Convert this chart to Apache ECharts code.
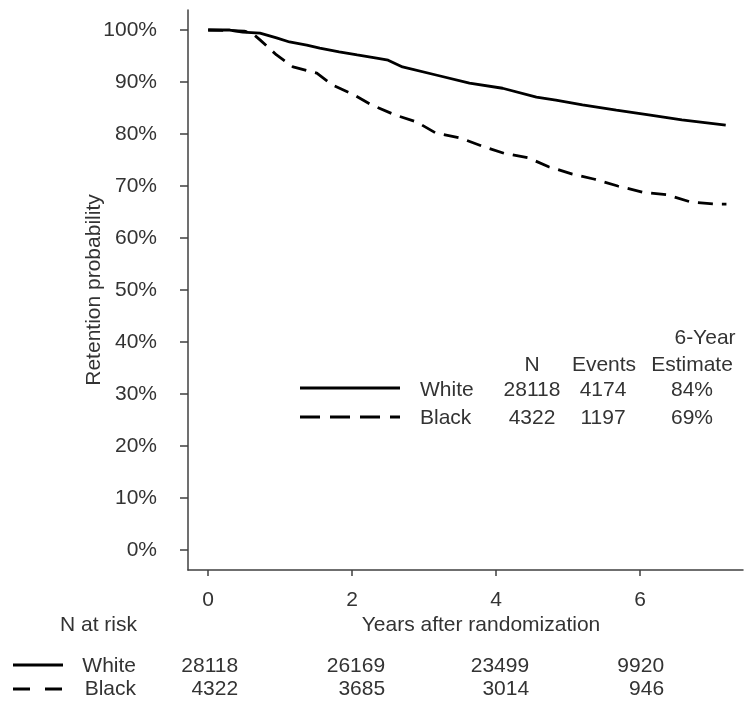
<!DOCTYPE html>
<html><head><meta charset="utf-8">
<script src="https://cdn.jsdelivr.net/npm/echarts@6/dist/echarts.min.js"></script>
<style>html,body{margin:0;padding:0;background:#fff}#c{width:746px;height:707px}</style>
</head><body><div id="c"></div>
<script>
// ---- data ----
const whiteYears = [0, 0.3, 0.48, 0.72, 0.95, 1.13, 1.37, 1.55, 1.82, 2.07, 2.34, 2.5, 2.7, 3.18, 3.63, 4.09, 4.56, 4.83, 5.2, 5.67, 6.12, 6.58, 7.19];
const whiteSurv  = [100, 100, 99.6, 99.4, 98.5, 97.7, 97.1, 96.5, 95.8, 95.2, 94.6, 94.2, 92.9, 91.3, 89.8, 88.8, 87.1, 86.5, 85.6, 84.6, 83.7, 82.7, 81.7];
const blackYears = [0, 0.5, 0.62, 0.72, 0.95, 1.18, 1.51, 1.73, 2.03, 2.27, 2.59, 2.9, 3.16, 3.51, 3.8, 4.11, 4.45, 4.73, 5.06, 5.37, 5.69, 6.04, 6.38, 6.71, 7.07, 7.2];
const blackSurv  = [100, 99.8, 99.3, 98.1, 95.2, 92.9, 91.7, 89.4, 87.5, 85.6, 83.7, 82.3, 80.2, 79.2, 77.7, 76.3, 75.4, 73.7, 72.3, 71.3, 70.0, 68.8, 68.3, 66.9, 66.5, 66.5];
const yTicks = [0, 10, 20, 30, 40, 50, 60, 70, 80, 90, 100];
const xTicks = [0, 2, 4, 6];
const groups = ['White', 'Black'];
const groupN = [28118, 4322];
const groupEvents = [4174, 1197];
const groupEstimate = ['84%', '69%'];
const riskYears = [0, 2, 4, 6];
const riskWhite = [28118, 26169, 23499, 9920];
const riskBlack = [4322, 3685, 3014, 946];

const FONT = '"Liberation Sans", Arial, sans-serif';
const TXT = '#333333';
const FS = 21;

const chart = echarts.init(document.getElementById('c'), null, {renderer: 'canvas'});
chart.setOption({
  animation: false,
  backgroundColor: '#ffffff',
  textStyle: {fontFamily: FONT},
  grid: {left: 188, top: 10, right: 3, bottom: 137},
  xAxis: {
    type: 'value', min: -0.28, max: 7.43,
    axisLine: {onZero: false, lineStyle: {color: '#404040', width: 1.5}},
    axisTick: {customValues: xTicks, length: 6, lineStyle: {color: '#404040', width: 1.5}},
    axisLabel: {customValues: xTicks, margin: 20, color: TXT, fontSize: FS, fontFamily: FONT},
    splitLine: {show: false}
  },
  yAxis: {
    type: 'value', min: -3.85, max: 103.85,
    name: 'Retention probability', nameLocation: 'middle', nameGap: 83, nameMoveOverlap: false,
    nameTextStyle: {color: TXT, fontSize: FS, fontFamily: FONT},
    axisLine: {show: true, onZero: false, lineStyle: {color: '#404040', width: 1.5}},
    axisTick: {show: true, customValues: yTicks, length: 8, lineStyle: {color: '#404040', width: 1.5}},
    axisLabel: {customValues: yTicks, margin: 31, color: TXT, fontSize: FS, fontFamily: FONT,
      formatter: v => v + '%'},
    splitLine: {show: false}
  },
  series: [
    {name: groups[0], type: 'line', showSymbol: false, silent: true,
     data: whiteYears.map((t, i) => [t, whiteSurv[i]]),
     lineStyle: {color: '#000', width: 2.8}},
    {name: groups[1], type: 'line', showSymbol: false, silent: true,
     data: blackYears.map((t, i) => [t, blackSurv[i]]),
     lineStyle: {color: '#000', width: 2.8, type: [15, 9]}}
  ]
});

// ---- annotations: legend table and number-at-risk table ----
function txt(x, y, s, align) {
  return {type: 'text', x: x, y: y, silent: true,
    style: {text: String(s), fill: TXT, font: FS + 'px ' + FONT, align: align || 'left', verticalAlign: 'middle'}};
}
function seg(x1, x2, y, dash) {
  return {type: 'line', silent: true, shape: {x1: x1, y1: y, x2: x2, y2: y},
    style: {stroke: '#000', lineWidth: 3, lineDash: dash || null}};
}
const g = [];
// legend table inside plot
g.push(txt(705, 338, '6-Year', 'center'));
g.push(txt(532, 365, 'N', 'center'));
g.push(txt(604, 365, 'Events', 'center'));
g.push(txt(692, 365, 'Estimate', 'center'));
const rowY = [390, 418];
g.push(seg(300, 400, 388));
g.push(seg(300, 400, 417, [20, 10]));
groups.forEach((name, i) => {
  g.push(txt(420, rowY[i], name, 'left'));
  g.push(txt(532, rowY[i], groupN[i], 'center'));
  g.push(txt(603, rowY[i], groupEvents[i], 'center'));
  g.push(txt(692, rowY[i], groupEstimate[i], 'center'));
});
// x axis title
g.push(txt(481, 625, 'Years after randomization', 'center'));
// number at risk
g.push(txt(137, 625, 'N at risk', 'right'));
g.push(seg(13, 63, 665));
g.push(seg(13, 62, 689, [17, 15]));
g.push(txt(136, 666, groups[0], 'right'));
g.push(txt(136, 689, groups[1], 'right'));
const riskOffset = [30, 33, 33, 24];
riskYears.forEach((t, i) => {
  const px = chart.convertToPixel({xAxisIndex: 0}, t) + riskOffset[i];
  g.push(txt(px, 666, riskWhite[i], 'right'));
  g.push(txt(px, 689, riskBlack[i], 'right'));
});
chart.setOption({graphic: {elements: g}});
</script>
</body></html>
